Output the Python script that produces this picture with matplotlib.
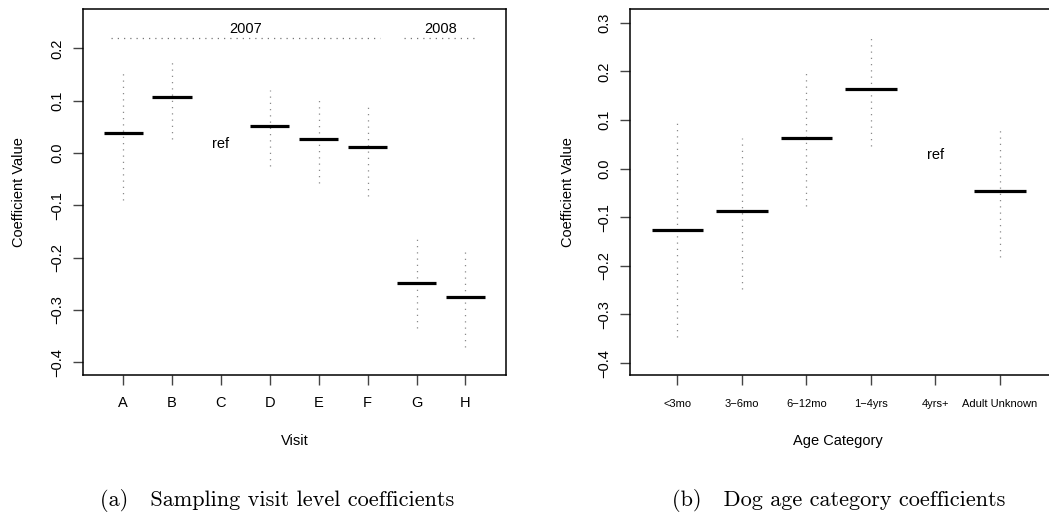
import numpy as np
import matplotlib
matplotlib.use("Agg")
import matplotlib.pyplot as plt

plt.rcParams['font.family'] = ['Liberation Sans', 'DejaVu Sans']
plt.rcParams['axes.unicode_minus'] = True

# ---- Data: panel (a) sampling visit ----
visits = ['A', 'B', 'C', 'D', 'E', 'F', 'G', 'H']
visit_est = [0.038, 0.107, np.nan, 0.052, 0.027, 0.011, -0.248, -0.275]
visit_lo = [-0.090, 0.027, np.nan, -0.024, -0.057, -0.082, -0.335, -0.371]
visit_hi = [0.157, 0.182, np.nan, 0.120, 0.108, 0.093, -0.160, -0.185]
visit_ref_index = 2
visit_ref_y = 0.017
years = ['2007', '2008']
year_start = [0.75, 6.75]
year_end = [6.25, 8.25]
year_line_y = 0.22
year_text_y = 0.238
visit_yticks = [-0.4, -0.3, -0.2, -0.1, 0.0, 0.1, 0.2]

# ---- Data: panel (b) dog age category ----
ages = ['<3mo', '3\u22126mo', '6\u221212mo', '1\u22124yrs', '4yrs+', 'Adult Unknown']
age_est = [-0.1255, -0.088, 0.063, 0.164, np.nan, -0.0465]
age_lo = [-0.346, -0.248, -0.076, 0.047, np.nan, -0.181]
age_hi = [0.095, 0.063, 0.200, 0.278, np.nan, 0.084]
age_ref_index = 4
age_ref_y = 0.028
age_yticks = [-0.4, -0.3, -0.2, -0.1, 0.0, 0.1, 0.2, 0.3]

W, H = 1049, 516
fig = plt.figure(figsize=(W / 100, H / 100), dpi=100)

ax1 = fig.add_axes([83 / W, 1 - 375 / H, (506 - 83) / W, (375 - 9) / H])
ax2w = (1049 - 629.7) / W + 0.01
ax2 = fig.add_axes([629.7 / W, 1 - 375 / H, ax2w, (375 - 9) / H])
ax2w_px = ax2w * W

ci_style = dict(color='#8a8a8a', lw=0.9, linestyle=(0, (1.0, 4.0)))
half = 0.4


def fmt(v):
    s = f"{v:.1f}"
    return s.replace('-', '\u2212')


def draw(ax, cats, est, lo, hi, ref_idx, ref_y, yticks, xtick_fs):
    x = np.arange(1, len(cats) + 1)
    for xi, e, l, h in zip(x, est, lo, hi):
        if np.isnan(e):
            continue
        ax.plot([xi, xi], [l, h], **ci_style)
        ax.plot([xi - half, xi + half], [e, e], color='black', lw=2.3,
                solid_capstyle='butt')
    ax.text(x[ref_idx], ref_y, 'ref', ha='center', va='center', fontsize=10.5)
    ax.set_xticks(x)
    ax.set_xticklabels(cats, fontsize=xtick_fs)
    ax.set_yticks(yticks)
    ax.set_yticklabels([fmt(v) for v in yticks], fontsize=10.5, rotation=90,
                       va='center')
    ax.tick_params(axis='both', direction='out', length=7, width=1,
                   color='#444444')
    ax.tick_params(axis='y', pad=6.5)
    for sp in ax.spines.values():
        sp.set_linewidth(1.1)
    ax.set_ylabel('Coefficient Value', fontsize=10.5)


draw(ax1, visits, visit_est, visit_lo, visit_hi, visit_ref_index, visit_ref_y,
     visit_yticks, 10.5)
ax1.set_xlim(0.18, 8.83)
ax1.set_ylim(-0.4245, 0.2753)
ax1.tick_params(axis='x', pad=8)
for ys, ye, lab in zip(year_start, year_end, years):
    ax1.plot([ys, ye], [year_line_y, year_line_y], color='#777777', lw=0.9,
             linestyle=(0, (1.0, 4.0)))
    ax1.text((ys + ye) / 2, year_text_y, lab, ha='center', va='center',
             fontsize=10.5)
ax1.set_xlabel('Visit', fontsize=10.5)
ax1.xaxis.set_label_coords(0.5, -0.161)
ax1.yaxis.set_label_coords(-0.135, 0.5)

draw(ax2, ages, age_est, age_lo, age_hi, age_ref_index, age_ref_y,
     age_yticks, 8)
ax2.set_xlim(0.262, 0.262 + ax2w_px / 64.5)
ax2.set_ylim(-0.4245, 0.3286)
ax2.tick_params(axis='x', pad=10.5)
ax2.spines['right'].set_visible(False)
ax2.set_xlabel('Age Category', fontsize=10.5)
ax2.xaxis.set_label_coords((838 - 629.7) / ax2w_px, -0.161)
ax2.yaxis.set_label_coords((575 - 629.7) / ax2w_px, 0.5)

fig.text(276.7 / W, 1 - 500 / H, '(a)   Sampling visit level coefficients',
         ha='center', va='center', fontsize=16, family='cmr10')
fig.text(839 / W, 1 - 500 / H, '(b)   Dog age category coefficients',
         ha='center', va='center', fontsize=16, family='cmr10')

fig.savefig('out.png', dpi=100)
